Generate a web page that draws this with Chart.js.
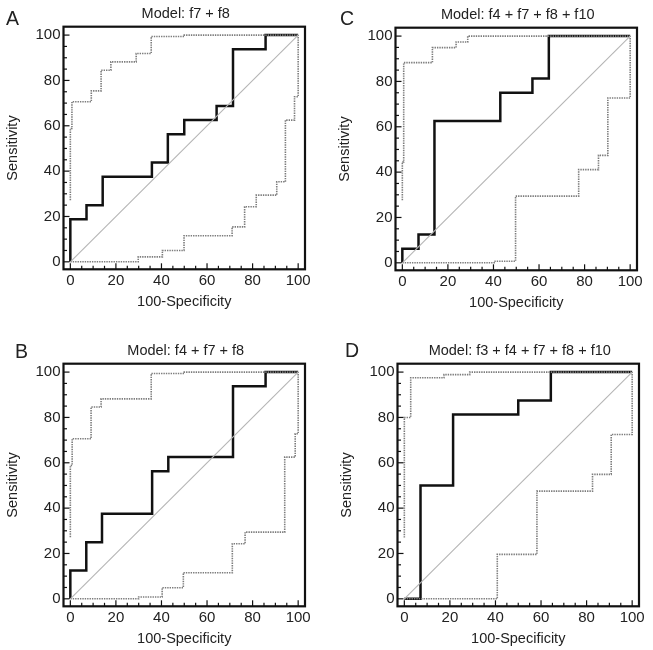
<!DOCTYPE html>
<html>
<head>
<meta charset="utf-8">
<script src="https://cdn.jsdelivr.net/npm/chart.js@4"></script>
<style>
  body { margin: 0; background: #fff; width: 653px; height: 650px; position: relative; overflow: hidden; }
  .panel { position: absolute; width: 330px; height: 318px; }
</style>
</head>
<body>
<div class="panel" style="left:0px;top:0px"><canvas id="chartA" width="330" height="318"></canvas></div>
<div class="panel" style="left:332px;top:1px"><canvas id="chartC" width="330" height="318"></canvas></div>
<div class="panel" style="left:0px;top:337px"><canvas id="chartB" width="330" height="318"></canvas></div>
<div class="panel" style="left:334px;top:337px"><canvas id="chartD" width="330" height="318"></canvas></div>
<script>
// ROC operating points [100-Specificity, Sensitivity], drawn as steps
const rocA = [[0,0],[0,18.75],[7.1,25],[14.2,37.5],[35.8,43.75],[42.8,56.25],[50,62.5],[64.2,68.75],[71.4,93.75],[85.7,100],[100,100]];
const upperA = [[0,27.2],[0,58.8],[0.7,70.6],[9.2,75.4],[13.5,84.5],[17.8,88.2],[28.9,91.9],[35.5,99.4],[50,100],[100,100]];
const lowerA = [[0,0],[29.8,2.2],[40.4,5],[49.9,11.5],[71,15.4],[76.5,24.3],[81.6,29.4],[90.6,35.3],[94.4,62.5],[98.4,72.8],[100,100]];

const rocB = [[0,0],[0,12.5],[7,25],[13.9,37.5],[35.9,56.25],[43,62.5],[71.4,93.75],[85.7,100],[100,100]];
const upperB = [[0,27.2],[0,58.8],[0.8,70.6],[9.1,84.6],[13.5,88.2],[35.5,99.4],[50,100],[100,100]];
const lowerB = [[0,0],[30,0.8],[40.3,4.9],[49.6,11.5],[71.1,24.3],[76.7,29.4],[94.1,62.5],[98.7,72.8],[100,100]];

const rocC = [[0,0],[0,6.25],[7.1,12.5],[14.1,62.5],[43,75],[57.1,81.25],[64.3,100],[100,100]];
const upperC = [[0,27.6],[0,44.5],[0.6,88.3],[13.2,94.9],[23.6,97.4],[28.7,100],[100,100]];
const lowerC = [[0,0],[40.3,0.7],[49.7,29.4],[77.4,41.1],[86.1,47.4],[90.2,72.7],[100,100]];

const rocD = [[0,0],[7.1,50],[21.4,81.25],[50,87.5],[64.3,100],[100,100]];
const upperD = [[0,27],[0,80],[2.8,97.5],[17.4,98.9],[28.7,100],[100,100]];
const lowerD = [[0,0],[40.8,19.6],[58.2,47.5],[82.6,54.9],[90.8,72.5],[100,100]];

const diagonal = [[0,0],[100,100]];

const labelTicks = [0, 20, 40, 60, 80, 100];
const minorTicks = [0, 5, 10, 15, 20, 25, 30, 35, 40, 45, 50, 55, 60, 65, 70, 75, 80, 85, 90, 95, 100];

const FONT = '"Liberation Sans", Arial, Helvetica, sans-serif';
const TEXT = '#222';

const panels = [
  { id: 'chartA', letter: 'A', title: 'Model: f7 + f8', roc: rocA, upper: upperA, lower: lowerA, lx: 6, ly: 25 },
  { id: 'chartC', letter: 'C', title: 'Model: f4 + f7 + f8 + f10', roc: rocC, upper: upperC, lower: lowerC, lx: 8, ly: 24 },
  { id: 'chartB', letter: 'B', title: 'Model: f4 + f7 + f8', roc: rocB, upper: upperB, lower: lowerB, lx: 15, ly: 21 },
  { id: 'chartD', letter: 'D', title: 'Model: f3 + f4 + f7 + f8 + f10', roc: rocD, upper: upperD, lower: lowerD, lx: 11, ly: 20 }
];

const toXY = pts => pts.map(p => ({ x: p[0], y: p[1] }));

// box, inward ticks, panel title and letter
const framePlugin = {
  id: 'frame',
  afterDatasetsDraw(chart, args, opts) {
    const { ctx, chartArea: a } = chart;
    const x = chart.scales.x, y = chart.scales.y;
    ctx.save();
    ctx.strokeStyle = '#111';
    ctx.lineWidth = 1.2;
    minorTicks.forEach(v => {
      const len = labelTicks.includes(v) ? 6 : 3.5;
      const px = x.getPixelForValue(v);
      ctx.beginPath(); ctx.moveTo(px, a.bottom); ctx.lineTo(px, a.bottom - len); ctx.stroke();
      const py = y.getPixelForValue(v);
      ctx.beginPath(); ctx.moveTo(a.left, py); ctx.lineTo(a.left + len, py); ctx.stroke();
    });
    ctx.lineWidth = 2.2;
    ctx.strokeRect(a.left, a.top, a.right - a.left, a.bottom - a.top);

    ctx.fillStyle = TEXT;
    ctx.textBaseline = 'alphabetic';
    ctx.font = '14.5px ' + FONT;
    ctx.textAlign = 'center';
    ctx.fillText(opts.title, (a.left + a.right) / 2 + 1.5, a.top - 8.5);
    ctx.font = '19.5px ' + FONT;
    ctx.textAlign = 'left';
    ctx.fillText(opts.letter, opts.lx, opts.ly);
    ctx.restore();
  }
};

panels.forEach(p => {
  const ctx = document.getElementById(p.id).getContext('2d');
  new Chart(ctx, {
    type: 'line',
    data: {
      datasets: [
        { data: toXY(diagonal), borderColor: '#b5b5b5', borderWidth: 1.1 },
        { data: toXY(p.upper), stepped: 'before', borderColor: '#7c7c7c', borderWidth: 1.6, borderDash: [1.4, 1] },
        { data: toXY(p.lower), stepped: 'before', borderColor: '#7c7c7c', borderWidth: 1.6, borderDash: [1.4, 1] },
        { data: toXY(p.roc), stepped: 'before', borderColor: '#111', borderWidth: 2.5 }
      ]
    },
    options: {
      responsive: false,
      animation: false,
      elements: { point: { radius: 0 }, line: { tension: 0 } },
      layout: { padding: { left: 0, top: 26.7, right: 25, bottom: 0 } },
      plugins: {
        legend: { display: false },
        tooltip: { enabled: false },
        frame: { title: p.title, letter: p.letter, lx: p.lx, ly: p.ly }
      },
      scales: {
        x: {
          type: 'linear', min: -3, max: 103,
          afterFit: s => { s.height = 48.7; },
          afterBuildTicks: s => { s.ticks = labelTicks.map(v => ({ value: v })); },
          grid: { display: false, drawTicks: false },
          border: { display: false },
          ticks: { padding: 3, color: TEXT, maxRotation: 0, autoSkip: false, font: { size: 15, family: FONT } },
          title: { display: true, text: '100-Specificity', color: TEXT, font: { size: 14.5, family: FONT }, padding: { top: 0, bottom: 7.4 } }
        },
        y: {
          type: 'linear', min: -3.3, max: 103.7,
          afterFit: s => { s.width = 63.5; },
          afterBuildTicks: s => { s.ticks = labelTicks.map(v => ({ value: v })); },
          grid: { display: false, drawTicks: false },
          border: { display: false },
          ticks: { padding: 3, color: TEXT, font: { size: 15, family: FONT } },
          title: { display: true, text: 'Sensitivity', color: TEXT, font: { size: 14.5, family: FONT }, padding: { top: 4, bottom: 0 } }
        }
      }
    },
    plugins: [framePlugin]
  });
});
</script>
</body>
</html>
